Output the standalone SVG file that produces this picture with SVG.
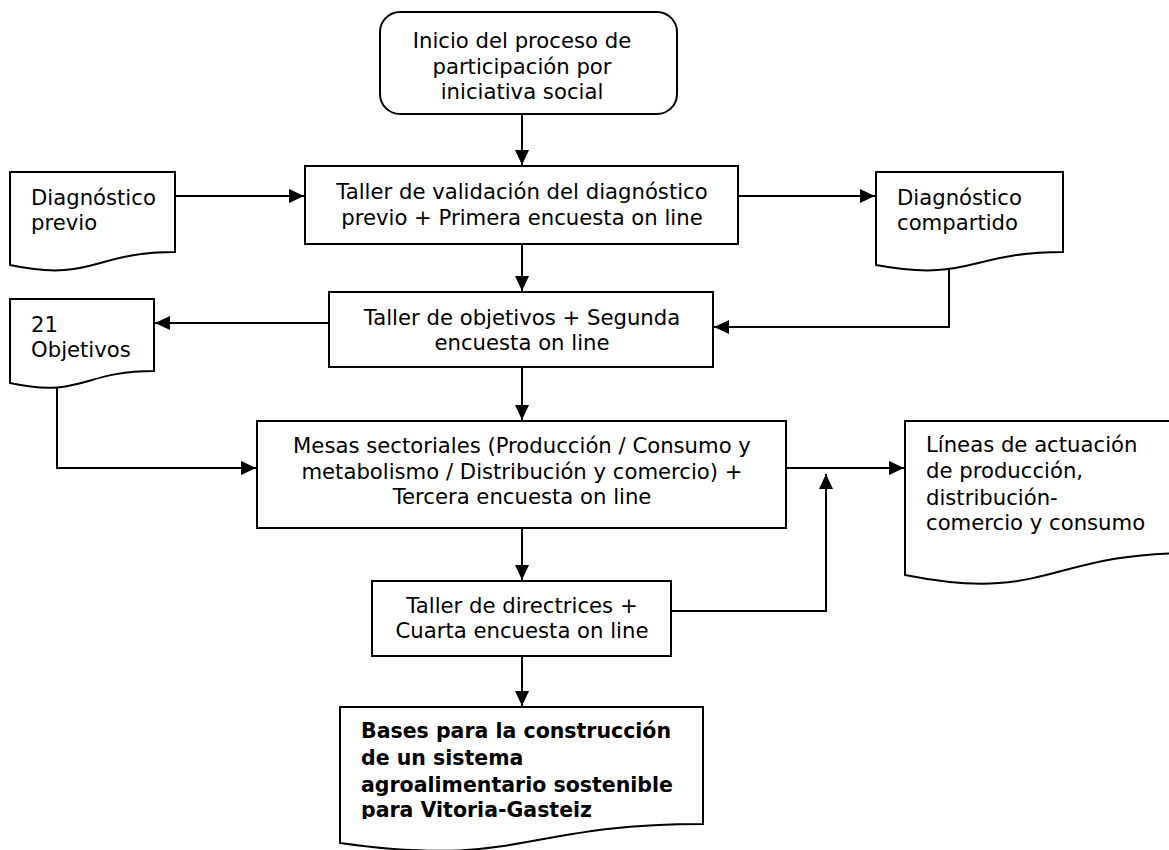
<svg xmlns="http://www.w3.org/2000/svg" width="1169" height="850" viewBox="0 0 1169 850">
<style>
.box{fill:#fff;stroke:#000;stroke-width:2}
.con{fill:none;stroke:#000;stroke-width:2}
.t{font-family:"DejaVu Sans","Liberation Sans",sans-serif;font-size:21.2px;fill:#000}
.c{text-anchor:middle}
.b{font-weight:bold;font-size:20.5px}
</style>
<defs>
<marker id="ah" markerUnits="userSpaceOnUse" markerWidth="16" markerHeight="15" refX="15" refY="7" orient="auto">
<path d="M0,0 L15,7 L0,14 Z" fill="#000"/>
</marker>
<clipPath id="bclip"><rect x="340" y="707" width="363" height="112"/></clipPath>
</defs>
<rect width="1169" height="850" fill="#fff"/>
<g id="connectors">
<path class="con" d="M522,114 V165" marker-end="url(#ah)"/>
<path class="con" d="M175,196 H304" marker-end="url(#ah)"/>
<path class="con" d="M738,196 H875" marker-end="url(#ah)"/>
<path class="con" d="M522,244 V291" marker-end="url(#ah)"/>
<path class="con" d="M949,262 V327 H714" marker-end="url(#ah)"/>
<path class="con" d="M329,323 H155" marker-end="url(#ah)"/>
<path class="con" d="M522,367 V420" marker-end="url(#ah)"/>
<path class="con" d="M57,378 V468 H256" marker-end="url(#ah)"/>
<path class="con" d="M786,468 H904" marker-end="url(#ah)"/>
<path class="con" d="M672,611 H826 V474" marker-end="url(#ah)"/>
<path class="con" d="M522,528 V580" marker-end="url(#ah)"/>
<path class="con" d="M522,656 V706" marker-end="url(#ah)"/>
</g>
<g id="inicio">
<rect class="box" x="380" y="12" width="297" height="102" rx="20" ry="20"/>
<text class="t c" x="522" y="48">Inicio del proceso de</text>
<text class="t c" x="522" y="74">participación por</text>
<text class="t c" x="522" y="99">iniciativa social</text>
</g>
<g id="diag-previo">
<path class="box" d="M10,172 H175 V252 C92.5,252 92.5,282.5 10,265 Z"/>
<text class="t" x="31" y="205">Diagnóstico</text>
<text class="t" x="31" y="230">previo</text>
</g>
<g id="taller-validacion">
<rect class="box" x="305" y="166" width="433" height="78"/>
<text class="t c" x="522" y="199">Taller de validación del diagnóstico</text>
<text class="t c" x="522" y="225">previo + Primera encuesta on line</text>
</g>
<g id="diag-compartido">
<path class="box" d="M876,172 H1063 V252 C969.5,252 969.5,282.5 876,265 Z"/>
<text class="t" x="897" y="205">Diagnóstico</text>
<text class="t" x="897" y="230">compartido</text>
</g>
<g id="objetivos">
<path class="box" d="M10,299 H154 V371 C82,371 82,398.5 10,383 Z"/>
<text class="t" x="31" y="332">21</text>
<text class="t" x="31" y="357">Objetivos</text>
</g>
<g id="taller-objetivos">
<rect class="box" x="329" y="292" width="384" height="75"/>
<text class="t c" x="522" y="325">Taller de objetivos + Segunda</text>
<text class="t c" x="522" y="350">encuesta on line</text>
</g>
<g id="mesas">
<rect class="box" x="257" y="421" width="529" height="107"/>
<text class="t c" x="522" y="453">Mesas sectoriales (Producción / Consumo y</text>
<text class="t c" x="522" y="479">metabolismo / Distribución y comercio) +</text>
<text class="t c" x="522" y="504">Tercera encuesta on line</text>
</g>
<g id="lineas">
<path class="box" d="M905,421 H1190 V553 C1047.5,553 1047.5,603.5 905,575 Z"/>
<text class="t" x="926" y="452">Líneas de actuación</text>
<text class="t" x="926" y="478">de producción,</text>
<text class="t" x="926" y="505">distribución-</text>
<text class="t" x="926" y="530">comercio y consumo</text>
</g>
<g id="taller-directrices">
<rect class="box" x="372" y="581" width="299" height="75"/>
<text class="t c" x="522" y="613">Taller de directrices +</text>
<text class="t c" x="522" y="638">Cuarta encuesta on line</text>
</g>
<g id="bases">
<path class="box" d="M340,707 H703 V824 C521.5,824 521.5,868.5 340,843 Z"/>
<g clip-path="url(#bclip)">
<text class="t b" x="361" y="738">Bases para la construcción</text>
<text class="t b" x="361" y="765">de un sistema</text>
<text class="t b" x="361" y="792">agroalimentario sostenible</text>
<text class="t b" x="361" y="817">para Vitoria-Gasteiz</text>
</g>
</g>
</svg>
